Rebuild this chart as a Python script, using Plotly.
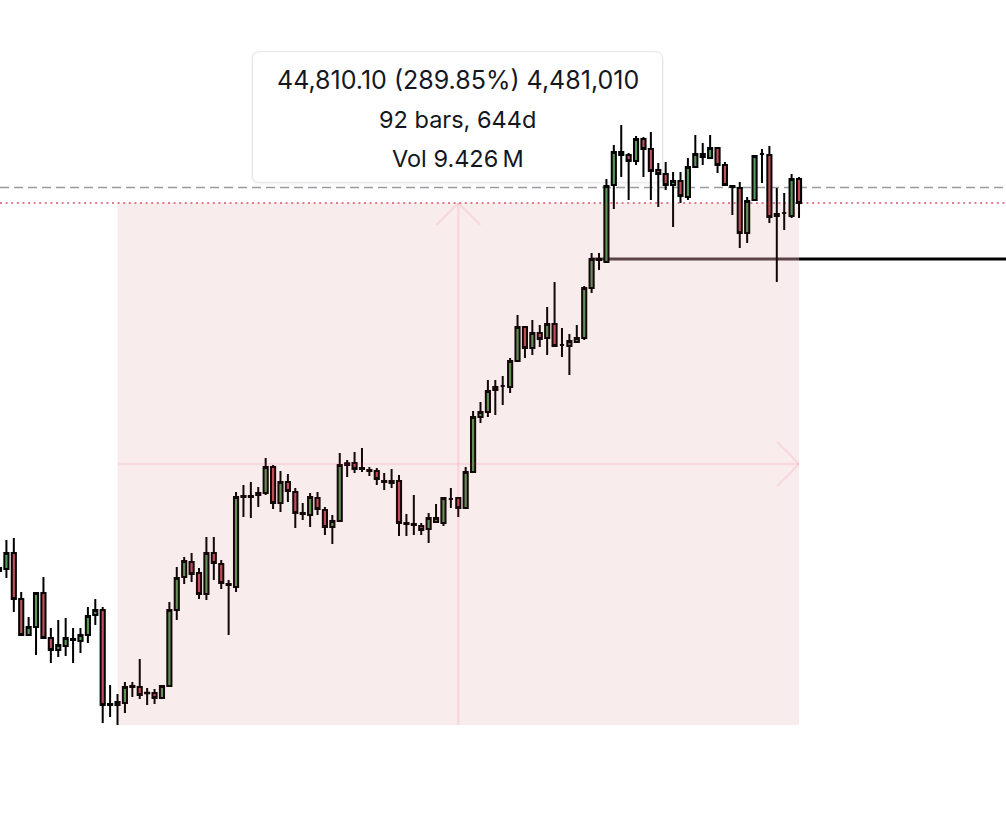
import plotly.graph_objects as go
import pandas as pd
import math

# Weekly BTC/USD candles (log scale), Aug 2022 - Aug 2024
week_start = "2022-08-01"
n_weeks = 109
dates = pd.date_range(week_start, periods=n_weeks, freq="7D")

opens = [23275, 23215, 24206, 21469, 19548, 19960, 21809, 19395, 18798, 18995,
         19345, 19244, 19548, 20594, 20864, 16330, 16287, 16373, 17114, 17070,
         16790, 16805, 16587, 17114, 20864, 22738, 23645, 22976, 21752, 24206,
         23522, 22327, 22153, 28010, 28010, 28157, 28304, 30288, 27575, 29127,
         28378, 26866, 26726, 27937, 27077, 25903, 26312, 30447, 30606, 30131,
         30053, 29974, 29203, 29051, 29203, 26175, 26100, 25971, 25768, 26243,
         26175, 27864, 27937, 27219, 29896, 34505, 34958, 37021, 37409, 37311,
         39928, 43628, 41304, 42951, 42395, 43970, 41628, 41520, 41955, 42395,
         48296, 52088, 51683, 63170, 68845, 68308, 67248, 71217, 69384, 65689,
         65007, 63170, 63832, 61224, 66204, 68486, 67776, 69566, 66550, 63006,
         62678, 55741, 60748, 68486, 68308, 58266, 58724, 58266, 64165]
highs = [23583, 25039, 25168, 21866, 20487, 21866, 22738, 19908, 20327, 20433,
         19908, 19908, 21028, 21469, 21028, 17159, 16761, 17293, 17293, 18362,
         17025, 16981, 17159, 21304, 23339, 23955, 24206, 23275, 25237, 25237,
         23769, 22561, 28378, 28900, 29127, 28750, 31007, 30447, 29974, 29741,
         28675, 27575, 28304, 28378, 27289, 26726, 31414, 30847, 31496, 31826,
         30288, 30210, 29818, 30131, 29663, 26796, 28157, 26175, 26866, 27504,
         28010, 28675, 27937, 30288, 35049, 35881, 37999, 37999, 38397, 40241,
         45014, 43628, 44431, 43856, 45962, 49058, 43514, 42839, 43856, 48549,
         52909, 52909, 64165, 70112, 73864, 68665, 71776, 71589, 72529, 66898,
         67073, 65348, 65348, 67776, 71963, 70478, 71963, 69566, 67073, 63170,
         63666, 61224, 68308, 69384, 69929, 62678, 61866, 65007, 64501]
lows = [22443, 22676, 20755, 19497, 19497, 18555, 19345, 18172, 18458, 18506,
        18172, 18652, 19144, 20064, 15541, 15786, 15460, 15951, 16631, 16544,
        16287, 16330, 16544, 17114, 20327, 22327, 22443, 21469, 21415, 22561,
        22038, 19548, 21866, 26587, 26518, 27289, 28157, 27148, 26936, 27648,
        25836, 26381, 25903, 26726, 25369, 24781, 26312, 29509, 29818, 29896,
        29586, 28900, 28526, 28675, 25303, 25303, 25369, 25369, 24845, 26175,
        25971, 27219, 26587, 27219, 29896, 33969, 34505, 34685, 35601, 36732,
        39928, 40241, 40557, 41412, 40557, 41520, 40346, 38497, 41846, 42175,
        47671, 50616, 51683, 59339, 64501, 60748, 66550, 64501, 60748, 59649,
        62353, 56619, 60273, 60748, 66204, 66550, 67776, 65177, 63170, 58418,
        53604, 54307, 60748, 63500, 57213, 49058, 56179, 57964, 57964]
closes = [23096, 24206, 21469, 19548, 19960, 21809, 19395, 18798, 19045, 19395,
          19295, 19548, 20540, 20864, 16287, 16290, 16415, 17070, 17070, 16718,
          16820, 16587, 17114, 20864, 22676, 23706, 22917, 21752, 24206, 23583,
          22385, 22269, 28010, 28083, 28083, 28304, 30288, 27575, 29127, 28452,
          26866, 26796, 28010, 27148, 25903, 26312, 30447, 30590, 30131, 30210,
          29974, 29356, 29127, 29203, 26175, 26100, 26030, 25702, 26518, 26518,
          27937, 27864, 27219, 29896, 34505, 34958, 36924, 37311, 37409, 39928,
          43628, 41304, 42951, 42284, 43970, 41520, 41628, 42064, 42395, 48296,
          52088, 51953, 63006, 68845, 68308, 67248, 71217, 69384, 65518, 65007,
          63170, 63832, 61385, 66204, 68486, 67953, 69566, 66550, 63170, 62841,
          55741, 60589, 68130, 68486, 58115, 58571, 58724, 64165, 60270.1]

# Measurement (date & price range) tool
range_start_idx = 16      # bar holding the low
range_end_idx = 108       # last bar
range_low = 15460.0
range_high = 60270.1
measure_lines = ["44,810.10 (289.85%) 4,481,010", "92 bars, 644d", "Vol 9.426\u202fM"]

# Horizontal levels
ray_level = 52088          # black horizontal ray
ray_start_idx = 80
dashed_level = 62760       # grey dashed price line
last_price = 60270.1       # red dotted last price line

W, H = 1006, 824
bar_px = 7.4076            # pixel spacing of weekly bars
first_bar_px = -1.0
px_per_decade = 883.4

t0 = dates[0]
def week_to_time(k):
    return t0 + pd.Timedelta(days=7 * k)

x_left = week_to_time((0 - first_bar_px) / bar_px)
x_right = week_to_time((W - first_bar_px) / bar_px)

y_low_log = math.log10(range_low)
y_bottom = y_low_log - (H - 725) / px_per_decade
y_top = y_low_log + 725 / px_per_decade

fig = go.Figure()
fig.add_trace(go.Candlestick(
    x=dates, open=opens, high=highs, low=lows, close=closes,
    increasing=dict(fillcolor="#5a995a", line=dict(color="#000000", width=2)),
    decreasing=dict(fillcolor="#c24f5b", line=dict(color="#000000", width=2)),
    whiskerwidth=0, hoverinfo="skip", showlegend=False,
))

shapes = []
# price lines
shapes.append(dict(type="line", xref="paper", x0=0, x1=1, yref="y", y0=dashed_level, y1=dashed_level,
                   line=dict(color="#979aa1", width=1.6, dash="9px,5px"), layer="below"))
shapes.append(dict(type="line", xref="paper", x0=0, x1=1, yref="y", y0=last_price, y1=last_price,
                   line=dict(color="#d9566a", width=1.6, dash="2px,3.6px"), layer="below"))
# black ray
shapes.append(dict(type="line", xref="x", yref="y", x0=dates[ray_start_idx], x1=dates[range_end_idx],
                   y0=ray_level, y1=ray_level, line=dict(color="#4f4548", width=3), layer="below"))
shapes.append(dict(type="line", xref="x", yref="y", x0=dates[range_end_idx], x1=x_right,
                   y0=ray_level, y1=ray_level, line=dict(color="#000000", width=3), layer="below"))

# measure box
x0b, x1b = dates[range_start_idx], dates[range_end_idx]
shapes.append(dict(type="rect", xref="x", yref="y", x0=x0b, x1=x1b, y0=range_low, y1=range_high,
                   fillcolor="rgba(200,70,80,0.10)", line=dict(width=0), layer="above"))
mid_idx = (range_start_idx + range_end_idx) // 2
x_mid = dates[mid_idx]
y_mid = math.sqrt(range_low * range_high)
arrow_col = "rgba(235,60,80,0.10)"
shapes.append(dict(type="line", xref="x", yref="y", x0=x_mid, x1=x_mid, y0=range_low, y1=range_high,
                   line=dict(color=arrow_col, width=2.4), layer="above"))
shapes.append(dict(type="line", xref="x", yref="y", x0=x0b, x1=x1b, y0=y_mid, y1=y_mid,
                   line=dict(color=arrow_col, width=2.4), layer="above"))
arm_w = 22 / bar_px
arm_f = 10 ** (22 / px_per_decade)
for side in (-1, 1):
    shapes.append(dict(type="line", xref="x", yref="y",
                       x0=x_mid, y0=range_high,
                       x1=week_to_time(mid_idx + side * arm_w), y1=range_high / arm_f,
                       line=dict(color=arrow_col, width=2.4), layer="above"))
    shapes.append(dict(type="line", xref="x", yref="y",
                       x0=x1b, y0=y_mid,
                       x1=week_to_time(range_end_idx - arm_w), y1=y_mid * arm_f ** side,
                       line=dict(color=arrow_col, width=2.4), layer="above"))

# tooltip label box (paper coords)
bx0, bx1, by0, by1, r = 252.5, 662.5, 51.7, 182.3, 7
def rr(x0, x1, y0, y1, r):
    X = lambda v: v / W
    Y = lambda v: 1 - v / H
    return (f"M {X(x0+r)},{Y(y0)} L {X(x1-r)},{Y(y0)} Q {X(x1)},{Y(y0)} {X(x1)},{Y(y0+r)} "
            f"L {X(x1)},{Y(y1-r)} Q {X(x1)},{Y(y1)} {X(x1-r)},{Y(y1)} "
            f"L {X(x0+r)},{Y(y1)} Q {X(x0)},{Y(y1)} {X(x0)},{Y(y1-r)} "
            f"L {X(x0)},{Y(y0+r)} Q {X(x0)},{Y(y0)} {X(x0+r)},{Y(y0)} Z")
shapes.append(dict(type="path", xref="paper", yref="paper", path=rr(bx0 - 1.5, bx1 + 1.5, by0, by1 + 2.5, r + 1),
                   fillcolor="rgba(0,0,0,0.035)", line=dict(width=0), layer="below"))
shapes.append(dict(type="path", xref="paper", yref="paper", path=rr(bx0, bx1, by0, by1, r),
                   fillcolor="#ffffff", line=dict(color="#e4e5e8", width=1), layer="below"))

annotations = []
text_cx = 457.5
for txt, cy, fs in zip(measure_lines, [80, 119, 158], [25, 23.5, 23.5]):
    annotations.append(dict(xref="paper", yref="paper", x=text_cx / W, y=1 - cy / H,
                            text=txt, showarrow=False, xanchor="center", yanchor="middle",
                            font=dict(family="Inter, Roboto, sans-serif", size=fs, color="#131722")))

fig.update_layout(
    width=W, height=H, margin=dict(l=0, r=0, t=0, b=0, pad=0),
    paper_bgcolor="white", plot_bgcolor="white", showlegend=False,
    xaxis=dict(type="date", range=[x_left, x_right], visible=False, rangeslider=dict(visible=False),
               fixedrange=True),
    yaxis=dict(type="log", range=[y_bottom, y_top], visible=False, fixedrange=True),
    shapes=shapes, annotations=annotations, boxgap=0.2,
)

fig.write_html("out.html", config={"displayModeBar": False},
               post_script="document.body.style.margin='0';document.body.style.overflow='hidden';")
